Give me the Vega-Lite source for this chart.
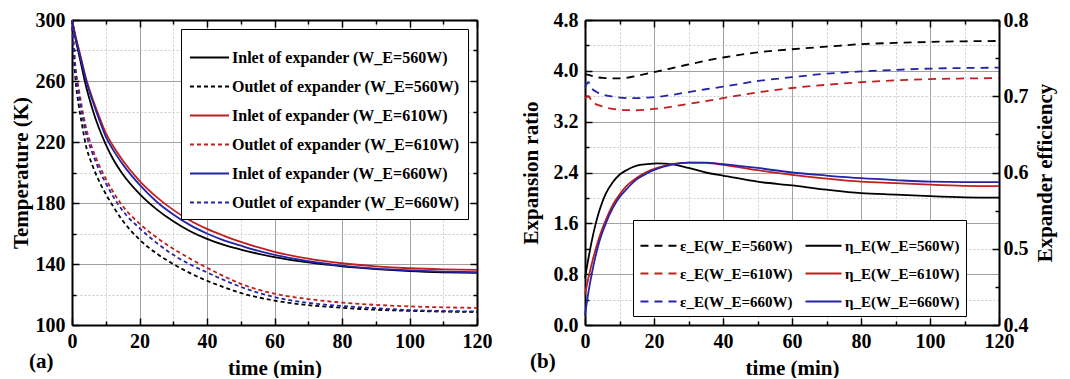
{
"$schema": "https://vega.github.io/schema/vega-lite/v6.json",
"background": "white",
"padding": {"left": 10, "top": 10, "right": 5, "bottom": 0},
"spacing": 28,
"datasets": {
"temp": [
{"s":"t1","t":0,"v":300},{"s":"t1","t":0.5,"v":294},{"s":"t1","t":1,"v":288},{"s":"t1","t":2,"v":278},{"s":"t1","t":3,"v":268},{"s":"t1","t":4,"v":258},{"s":"t1","t":6,"v":242},{"s":"t1","t":8,"v":229},{"s":"t1","t":10,"v":218.5},{"s":"t1","t":12,"v":209.5},{"s":"t1","t":15,"v":199},{"s":"t1","t":20,"v":186},{"s":"t1","t":25,"v":176},{"s":"t1","t":30,"v":168},{"s":"t1","t":35,"v":161.5},{"s":"t1","t":40,"v":156.5},{"s":"t1","t":45,"v":152.5},{"s":"t1","t":50,"v":149.5},{"s":"t1","t":55,"v":146.8},{"s":"t1","t":60,"v":144.5},{"s":"t1","t":70,"v":141},{"s":"t1","t":80,"v":138.5},{"s":"t1","t":90,"v":136.7},{"s":"t1","t":100,"v":135.4},{"s":"t1","t":110,"v":134.6},{"s":"t1","t":120,"v":134.2},
{"s":"t2","t":0,"v":300},{"s":"t2","t":0.5,"v":278},{"s":"t2","t":1,"v":262},{"s":"t2","t":2,"v":244},{"s":"t2","t":3,"v":231},{"s":"t2","t":4,"v":219},{"s":"t2","t":6,"v":205},{"s":"t2","t":8,"v":194.5},{"s":"t2","t":10,"v":186},{"s":"t2","t":12,"v":178.5},{"s":"t2","t":15,"v":168.5},{"s":"t2","t":20,"v":156},{"s":"t2","t":25,"v":147},{"s":"t2","t":30,"v":140},{"s":"t2","t":35,"v":134},{"s":"t2","t":40,"v":129},{"s":"t2","t":45,"v":124.8},{"s":"t2","t":50,"v":121},{"s":"t2","t":55,"v":118.2},{"s":"t2","t":60,"v":116},{"s":"t2","t":70,"v":113},{"s":"t2","t":80,"v":111.3},{"s":"t2","t":90,"v":110},{"s":"t2","t":100,"v":109.3},{"s":"t2","t":110,"v":108.8},{"s":"t2","t":120,"v":108.5},
{"s":"t3","t":0,"v":300},{"s":"t3","t":0.5,"v":295},{"s":"t3","t":1,"v":290},{"s":"t3","t":2,"v":281},{"s":"t3","t":3,"v":272},{"s":"t3","t":4,"v":263},{"s":"t3","t":6,"v":249},{"s":"t3","t":8,"v":237},{"s":"t3","t":10,"v":226},{"s":"t3","t":12,"v":218},{"s":"t3","t":15,"v":208},{"s":"t3","t":20,"v":194.5},{"s":"t3","t":25,"v":184},{"s":"t3","t":30,"v":175.5},{"s":"t3","t":35,"v":168.5},{"s":"t3","t":40,"v":163},{"s":"t3","t":45,"v":158.5},{"s":"t3","t":50,"v":154.5},{"s":"t3","t":55,"v":151},{"s":"t3","t":60,"v":148},{"s":"t3","t":70,"v":143.5},{"s":"t3","t":80,"v":140.5},{"s":"t3","t":90,"v":138.5},{"s":"t3","t":100,"v":137.2},{"s":"t3","t":110,"v":136.5},{"s":"t3","t":120,"v":136.2},
{"s":"t4","t":0,"v":300},{"s":"t4","t":0.5,"v":284},{"s":"t4","t":1,"v":270},{"s":"t4","t":2,"v":255},{"s":"t4","t":3,"v":242},{"s":"t4","t":4,"v":231},{"s":"t4","t":6,"v":216},{"s":"t4","t":8,"v":205},{"s":"t4","t":10,"v":196},{"s":"t4","t":12,"v":188},{"s":"t4","t":15,"v":178},{"s":"t4","t":20,"v":166.5},{"s":"t4","t":25,"v":157.5},{"s":"t4","t":30,"v":150},{"s":"t4","t":35,"v":143.5},{"s":"t4","t":40,"v":137.5},{"s":"t4","t":45,"v":132},{"s":"t4","t":50,"v":127},{"s":"t4","t":55,"v":123.3},{"s":"t4","t":60,"v":120.5},{"s":"t4","t":70,"v":117},{"s":"t4","t":80,"v":114.7},{"s":"t4","t":90,"v":113.2},{"s":"t4","t":100,"v":112.2},{"s":"t4","t":110,"v":111.6},{"s":"t4","t":120,"v":111.2},
{"s":"t5","t":0,"v":300},{"s":"t5","t":0.5,"v":294.5},{"s":"t5","t":1,"v":289},{"s":"t5","t":2,"v":280},{"s":"t5","t":3,"v":271},{"s":"t5","t":4,"v":262},{"s":"t5","t":6,"v":247.5},{"s":"t5","t":8,"v":235},{"s":"t5","t":10,"v":223.5},{"s":"t5","t":12,"v":215.5},{"s":"t5","t":15,"v":205.5},{"s":"t5","t":20,"v":192},{"s":"t5","t":25,"v":181},{"s":"t5","t":30,"v":172.5},{"s":"t5","t":35,"v":165.5},{"s":"t5","t":40,"v":160},{"s":"t5","t":45,"v":155.5},{"s":"t5","t":50,"v":152},{"s":"t5","t":55,"v":148.7},{"s":"t5","t":60,"v":146},{"s":"t5","t":70,"v":141.8},{"s":"t5","t":80,"v":139},{"s":"t5","t":90,"v":137},{"s":"t5","t":100,"v":135.8},{"s":"t5","t":110,"v":135},{"s":"t5","t":120,"v":134.6},
{"s":"t6","t":0,"v":300},{"s":"t6","t":0.5,"v":282},{"s":"t6","t":1,"v":267},{"s":"t6","t":2,"v":252},{"s":"t6","t":3,"v":238},{"s":"t6","t":4,"v":227},{"s":"t6","t":6,"v":213},{"s":"t6","t":8,"v":202},{"s":"t6","t":10,"v":193},{"s":"t6","t":12,"v":185},{"s":"t6","t":15,"v":175},{"s":"t6","t":20,"v":163.5},{"s":"t6","t":25,"v":154},{"s":"t6","t":30,"v":146},{"s":"t6","t":35,"v":139.7},{"s":"t6","t":40,"v":134.5},{"s":"t6","t":45,"v":129.5},{"s":"t6","t":50,"v":125},{"s":"t6","t":55,"v":121.3},{"s":"t6","t":60,"v":118.3},{"s":"t6","t":70,"v":114.5},{"s":"t6","t":80,"v":112.5},{"s":"t6","t":90,"v":111},{"s":"t6","t":100,"v":109.8},{"s":"t6","t":110,"v":109.2},{"s":"t6","t":120,"v":108.9}
],
"ratio": [
{"s":"r1","t":0,"v":3.95},{"s":"r1","t":1,"v":3.935},{"s":"r1","t":2,"v":3.92},{"s":"r1","t":3,"v":3.905},{"s":"r1","t":4,"v":3.895},{"s":"r1","t":5,"v":3.89},{"s":"r1","t":6,"v":3.885},{"s":"r1","t":8,"v":3.88},{"s":"r1","t":10,"v":3.88},{"s":"r1","t":12,"v":3.89},{"s":"r1","t":15,"v":3.92},{"s":"r1","t":18,"v":3.955},{"s":"r1","t":21,"v":3.99},{"s":"r1","t":25,"v":4.04},{"s":"r1","t":30,"v":4.1},{"s":"r1","t":35,"v":4.16},{"s":"r1","t":40,"v":4.21},{"s":"r1","t":50,"v":4.29},{"s":"r1","t":60,"v":4.34},{"s":"r1","t":70,"v":4.38},{"s":"r1","t":80,"v":4.42},{"s":"r1","t":90,"v":4.44},{"s":"r1","t":100,"v":4.455},{"s":"r1","t":110,"v":4.465},{"s":"r1","t":120,"v":4.47},
{"s":"r3","t":0,"v":3.57},{"s":"r3","t":1,"v":3.6},{"s":"r3","t":2,"v":3.52},{"s":"r3","t":3,"v":3.48},{"s":"r3","t":4,"v":3.46},{"s":"r3","t":5,"v":3.44},{"s":"r3","t":6,"v":3.425},{"s":"r3","t":8,"v":3.4},{"s":"r3","t":10,"v":3.39},{"s":"r3","t":12,"v":3.382},{"s":"r3","t":15,"v":3.38},{"s":"r3","t":18,"v":3.39},{"s":"r3","t":21,"v":3.405},{"s":"r3","t":25,"v":3.435},{"s":"r3","t":30,"v":3.48},{"s":"r3","t":35,"v":3.525},{"s":"r3","t":40,"v":3.57},{"s":"r3","t":50,"v":3.66},{"s":"r3","t":60,"v":3.73},{"s":"r3","t":70,"v":3.78},{"s":"r3","t":80,"v":3.82},{"s":"r3","t":90,"v":3.85},{"s":"r3","t":100,"v":3.87},{"s":"r3","t":110,"v":3.88},{"s":"r3","t":120,"v":3.885},
{"s":"r5","t":0,"v":3.74},{"s":"r5","t":1,"v":3.82},{"s":"r5","t":2,"v":3.72},{"s":"r5","t":3,"v":3.68},{"s":"r5","t":4,"v":3.65},{"s":"r5","t":5,"v":3.63},{"s":"r5","t":6,"v":3.615},{"s":"r5","t":8,"v":3.595},{"s":"r5","t":10,"v":3.58},{"s":"r5","t":12,"v":3.572},{"s":"r5","t":15,"v":3.57},{"s":"r5","t":18,"v":3.578},{"s":"r5","t":21,"v":3.59},{"s":"r5","t":25,"v":3.62},{"s":"r5","t":30,"v":3.665},{"s":"r5","t":35,"v":3.71},{"s":"r5","t":40,"v":3.75},{"s":"r5","t":50,"v":3.84},{"s":"r5","t":60,"v":3.9},{"s":"r5","t":70,"v":3.955},{"s":"r5","t":80,"v":3.99},{"s":"r5","t":90,"v":4.015},{"s":"r5","t":100,"v":4.035},{"s":"r5","t":110,"v":4.045},{"s":"r5","t":120,"v":4.05}
],
"eff": [
{"s":"r2","t":0,"v":0.462},{"s":"r2","t":1,"v":0.4875},{"s":"r2","t":2,"v":0.511},{"s":"r2","t":3,"v":0.531},{"s":"r2","t":4,"v":0.5475},{"s":"r2","t":5,"v":0.561},{"s":"r2","t":6,"v":0.572},{"s":"r2","t":8,"v":0.587},{"s":"r2","t":10,"v":0.597},{"s":"r2","t":12,"v":0.603},{"s":"r2","t":15,"v":0.609},{"s":"r2","t":18,"v":0.611},{"s":"r2","t":21,"v":0.612},{"s":"r2","t":25,"v":0.611},{"s":"r2","t":30,"v":0.606},{"s":"r2","t":35,"v":0.6},{"s":"r2","t":40,"v":0.596},{"s":"r2","t":50,"v":0.588},{"s":"r2","t":60,"v":0.583},{"s":"r2","t":70,"v":0.5775},{"s":"r2","t":80,"v":0.573},{"s":"r2","t":90,"v":0.571},{"s":"r2","t":100,"v":0.569},{"s":"r2","t":110,"v":0.5675},{"s":"r2","t":120,"v":0.567},
{"s":"r4","t":0,"v":0.44},{"s":"r4","t":1,"v":0.462},{"s":"r4","t":2,"v":0.481},{"s":"r4","t":3,"v":0.498},{"s":"r4","t":4,"v":0.513},{"s":"r4","t":5,"v":0.526},{"s":"r4","t":6,"v":0.5375},{"s":"r4","t":8,"v":0.557},{"s":"r4","t":10,"v":0.571},{"s":"r4","t":12,"v":0.582},{"s":"r4","t":15,"v":0.593},{"s":"r4","t":18,"v":0.601},{"s":"r4","t":21,"v":0.606},{"s":"r4","t":25,"v":0.611},{"s":"r4","t":30,"v":0.613},{"s":"r4","t":35,"v":0.6125},{"s":"r4","t":40,"v":0.61},{"s":"r4","t":50,"v":0.603},{"s":"r4","t":60,"v":0.597},{"s":"r4","t":70,"v":0.592},{"s":"r4","t":80,"v":0.588},{"s":"r4","t":90,"v":0.586},{"s":"r4","t":100,"v":0.584},{"s":"r4","t":110,"v":0.5825},{"s":"r4","t":120,"v":0.582},
{"s":"r6","t":0,"v":0.4125},{"s":"r6","t":1,"v":0.443},{"s":"r6","t":2,"v":0.468},{"s":"r6","t":3,"v":0.489},{"s":"r6","t":4,"v":0.507},{"s":"r6","t":5,"v":0.521},{"s":"r6","t":6,"v":0.533},{"s":"r6","t":8,"v":0.553},{"s":"r6","t":10,"v":0.5675},{"s":"r6","t":12,"v":0.578},{"s":"r6","t":15,"v":0.591},{"s":"r6","t":18,"v":0.599},{"s":"r6","t":21,"v":0.605},{"s":"r6","t":25,"v":0.61},{"s":"r6","t":30,"v":0.613},{"s":"r6","t":35,"v":0.613},{"s":"r6","t":40,"v":0.611},{"s":"r6","t":50,"v":0.606},{"s":"r6","t":60,"v":0.6},{"s":"r6","t":70,"v":0.596},{"s":"r6","t":80,"v":0.5925},{"s":"r6","t":90,"v":0.59},{"s":"r6","t":100,"v":0.588},{"s":"r6","t":110,"v":0.5875},{"s":"r6","t":120,"v":0.5875}
]
},
"hconcat": [
{
"width": 405, "height": 305,
"title": {"text": "(a)", "orient": "bottom", "anchor": "start", "offset": -27, "dx": 19, "fontSize": 21, "font": "Liberation Serif", "fontWeight": "bold", "color": "#000"},
"data": {"name": "temp"},
"encoding": {
"color": {"field": "s", "type": "nominal", "scale": {"domain": ["t1","t2","t3","t4","t5","t6"], "range": ["#000000","#000000","#c01f1f","#c01f1f","#2424a8","#2424a8"]},
 "legend": {"title": null, "orient": "top-right", "offset": 9, "values": ["t1","t2","t3","t4","t5","t6"], "labelExpr": "datum.value=='t1'?'Inlet of expander (W_E=560W)':datum.value=='t2'?'Outlet of expander (W_E=560W)':datum.value=='t3'?'Inlet of expander (W_E=610W)':datum.value=='t4'?'Outlet of expander (W_E=610W)':datum.value=='t5'?'Inlet of expander (W_E=660W)':'Outlet of expander (W_E=660W)'",
  "encode": {"symbols": {"update": {"strokeDash": {"signal": "(datum.value=='t2'||datum.value=='t4'||datum.value=='t6') ? [4,3] : [1,0]"}}}}}}
},
"layer": [
{
"transform": [{"filter": "indexof(['t1','t3','t5'], datum.s) >= 0"}],
"mark": {"type": "line", "strokeWidth": 1.8, "interpolate": "monotone"},
"encoding": {
"x": {"field": "t", "type": "quantitative", "scale": {"domain": [0, 120], "nice": false},
 "axis": {"orient": "bottom", "values": [0,10,20,30,40,50,60,70,80,90,100,110,120], "labelExpr": "datum.value % 20 === 0 ? datum.label : ''", "tickSize": {"condition": {"test": "datum.value % 20 === 0", "value": -7}, "value": -4}, "grid": true, "gridColor": {"condition": {"test": "datum.value % 20 === 0", "value": "#a0a0a0"}, "value": "#cccccc"}, "gridDash": {"condition": {"test": "datum.value % 20 === 0", "value": []}, "value": [2, 2]}, "title": "time (min)", "labelPadding": 13, "titlePadding": 3, "labelFlush": false, "labelOverlap": false}},
"y": {"field": "v", "type": "quantitative", "scale": {"domain": [100, 300], "nice": false, "zero": false},
 "axis": {"orient": "left", "values": [100,120,140,160,180,200,220,240,260,280,300], "labelExpr": "(datum.value - 100) % 40 === 0 ? datum.label : ''", "tickSize": {"condition": {"test": "(datum.value - 100) % 40 === 0", "value": -7}, "value": -4}, "grid": true, "gridColor": {"condition": {"test": "(datum.value - 100) % 40 === 0", "value": "#a0a0a0"}, "value": "#cccccc"}, "gridDash": {"condition": {"test": "(datum.value - 100) % 40 === 0", "value": []}, "value": [2, 2]}, "title": "Temperature (K)", "labelPadding": 14, "titlePadding": 4, "labelFlush": false, "labelOverlap": false}}
}
},
{
"transform": [{"filter": "indexof(['t2','t4','t6'], datum.s) >= 0"}],
"mark": {"type": "line", "strokeWidth": 1.8, "interpolate": "monotone", "strokeDash": [4, 3]},
"encoding": {
"x": {"field": "t", "type": "quantitative",
 "axis": {"orient": "top", "values": [0,10,20,30,40,50,60,70,80,90,100,110,120], "labels": false, "title": null, "grid": false, "tickSize": {"condition": {"test": "datum.value % 20 === 0", "value": -7}, "value": -4}}},
"y": {"field": "v", "type": "quantitative",
 "axis": {"orient": "right", "values": [100,120,140,160,180,200,220,240,260,280,300], "labels": false, "title": null, "grid": false, "tickSize": {"condition": {"test": "(datum.value - 100) % 40 === 0", "value": -7}, "value": -4}}}
}
}
],
"resolve": {"axis": {"x": "independent", "y": "independent"}}
},
{
"width": 414, "height": 305,
"title": {"text": "(b)", "orient": "bottom", "anchor": "start", "offset": -27, "dx": 10, "fontSize": 21, "font": "Liberation Serif", "fontWeight": "bold", "color": "#000"},
"encoding": {
"color": {"field": "s", "type": "nominal", "scale": {"domain": ["r1","r2","r3","r4","r5","r6"], "range": ["#000000","#000000","#c01f1f","#c01f1f","#2424a8","#2424a8"]},
 "legend": {"title": null, "orient": "none", "legendX": 48, "legendY": 200, "columns": 2, "columnPadding": 8, "symbolSize": 1300, "labelFontSize": 15, "padding": 6, "values": ["r1","r3","r5","r2","r4","r6"], "labelExpr": "datum.value=='r1'?'ε_E(W_E=560W)':datum.value=='r2'?'η_E(W_E=560W)':datum.value=='r3'?'ε_E(W_E=610W)':datum.value=='r4'?'η_E(W_E=610W)':datum.value=='r5'?'ε_E(W_E=660W)':'η_E(W_E=660W)'",
  "encode": {"symbols": {"update": {"strokeDash": {"signal": "(datum.value=='r1'||datum.value=='r3'||datum.value=='r5') ? [8,6] : [1,0]"}}}}}}
},
"layer": [
{
"data": {"name": "ratio"},
"mark": {"type": "line", "strokeWidth": 1.8, "interpolate": "monotone", "strokeDash": [8, 6]},
"encoding": {
"x": {"field": "t", "type": "quantitative", "scale": {"domain": [0, 120], "nice": false},
 "axis": {"orient": "bottom", "values": [0,10,20,30,40,50,60,70,80,90,100,110,120], "labelExpr": "datum.value % 20 === 0 ? datum.label : ''", "tickSize": {"condition": {"test": "datum.value % 20 === 0", "value": -7}, "value": -4}, "grid": true, "gridColor": {"condition": {"test": "datum.value % 20 === 0", "value": "#a0a0a0"}, "value": "#cccccc"}, "gridDash": {"condition": {"test": "datum.value % 20 === 0", "value": []}, "value": [2, 2]}, "title": "time (min)", "labelPadding": 13, "titlePadding": 3, "labelFlush": false, "labelOverlap": false}},
"y": {"field": "v", "type": "quantitative", "scale": {"domain": [0, 4.8], "nice": false, "zero": false},
 "axis": {"orient": "left", "values": [0,0.4,0.8,1.2,1.6,2,2.4,2.8,3.2,3.6,4,4.4,4.8], "format": ".1f", "labelExpr": "round(datum.value*10) % 8 === 0 ? datum.label : ''", "tickSize": {"condition": {"test": "round(datum.value*10) % 8 === 0", "value": -7}, "value": -4}, "grid": true, "gridColor": {"condition": {"test": "round(datum.value*10) % 8 === 0", "value": "#a0a0a0"}, "value": "#cccccc"}, "gridDash": {"condition": {"test": "round(datum.value*10) % 8 === 0", "value": []}, "value": [2, 2]}, "title": "Expansion ratio", "labelPadding": 14, "titlePadding": 12, "labelFlush": false, "labelOverlap": false}}
}
},
{
"data": {"name": "eff"},
"mark": {"type": "line", "strokeWidth": 1.8, "interpolate": "monotone"},
"encoding": {
"x": {"field": "t", "type": "quantitative",
 "axis": {"orient": "top", "values": [0,10,20,30,40,50,60,70,80,90,100,110,120], "labels": false, "title": null, "grid": false, "tickSize": {"condition": {"test": "datum.value % 20 === 0", "value": -7}, "value": -4}}},
"y": {"field": "v", "type": "quantitative", "scale": {"domain": [0.4, 0.8], "nice": false, "zero": false},
 "axis": {"orient": "right", "values": [0.4,0.45,0.5,0.55,0.6,0.65,0.7,0.75,0.8], "format": ".1f", "labelExpr": "round(datum.value*100) % 10 === 0 ? datum.label : ''", "tickSize": {"condition": {"test": "round(datum.value*100) % 10 === 0", "value": -7}, "value": -4}, "grid": false, "title": "Expander efficiency", "titleAngle": 270, "titleBaseline": "top", "labelPadding": 11, "titlePadding": 6, "labelFlush": false, "labelOverlap": false}}
}
}
],
"resolve": {"scale": {"y": "independent"}, "axis": {"x": "independent"}}
}
],
"config": {
"font": "Liberation Serif",
"view": {"stroke": null},
"axis": {"labelFont": "Liberation Serif", "labelFontSize": 20, "labelFontWeight": "bold", "labelColor": "#000", "titleFont": "Liberation Serif", "titleFontSize": 21, "titleFontWeight": "bold", "titleColor": "#000", "domainColor": "#000", "domainWidth": 2, "tickColor": "#000", "tickWidth": 1.5, "gridWidth": 1},
"legend": {"labelFont": "Liberation Serif", "labelFontWeight": "bold", "labelFontSize": 16, "labelColor": "#000", "strokeColor": "#000", "fillColor": "#fff", "padding": 8, "cornerRadius": 0, "rowPadding": 0, "labelOffset": 2, "symbolStrokeWidth": 2, "symbolType": "stroke", "symbolSize": 1521, "labelLimit": 400}
}
}
